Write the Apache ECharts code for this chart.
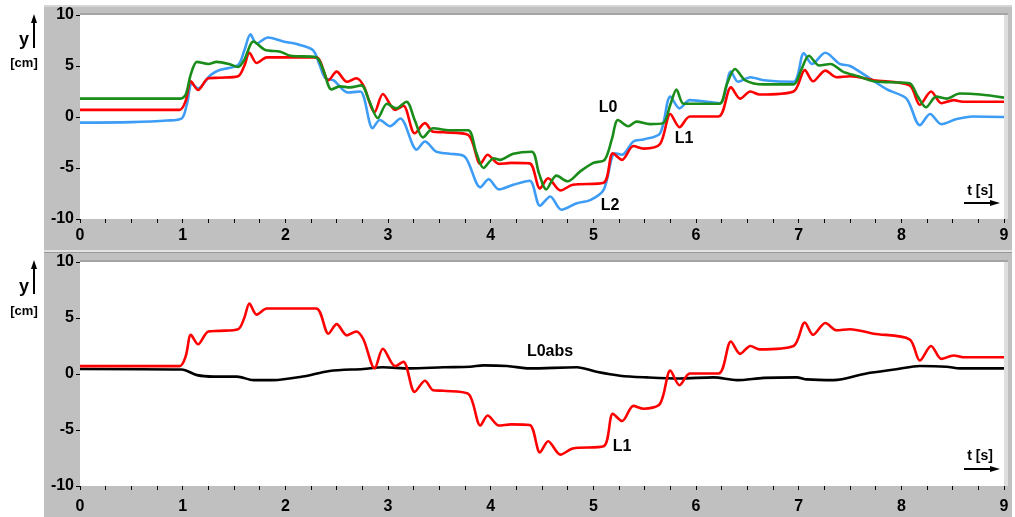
<!DOCTYPE html>
<html>
<head>
<meta charset="utf-8">
<script src="https://cdn.jsdelivr.net/npm/echarts@6/dist/echarts.min.js"></script>
<style>
html,body{margin:0;padding:0;background:#fff;}
#c{width:1015px;height:517px;}
</style>
</head>
<body>
<div id="c"></div>
<script>
// ---- data ----
var xTicks = [0,1,2,3,4,5,6,7,8,9];
var yTicks = [-10,-5,0,5,10];

var tL0 = [0,0.5,0.98,1.03,1.08,1.14,1.25,1.33,1.45,1.54,1.60,1.69,1.80,1.95,2.05,2.30,2.37,2.45,2.53,2.63,2.74,2.82,2.90,2.99,3.08,3.18,3.26,3.34,3.44,3.6,3.78,3.86,3.93,4.03,4.09,4.22,4.40,4.47,4.54,4.64,4.75,4.87,5.0,5.11,5.18,5.24,5.34,5.42,5.55,5.68,5.75,5.81,5.88,6.05,6.23,6.30,6.38,6.48,6.66,6.95,7.02,7.10,7.20,7.31,7.43,7.58,7.73,7.9,8.08,8.16,8.24,8.34,8.44,8.57,8.77,9.0];
var yL0 = [1.8,1.8,1.8,2.2,4.2,5.4,5.2,5.4,5.2,4.9,5.6,7.4,6.6,6.4,6.0,5.85,4.6,2.7,3.0,2.9,3.1,1.5,-0.1,1.3,0.85,1.5,-0.3,-2.0,-1.1,-1.3,-1.3,-3.5,-5.0,-4.05,-4.2,-3.6,-3.4,-5.5,-7.1,-5.75,-6.3,-5.35,-4.5,-4.2,-2.2,-0.3,-0.9,-0.45,-0.7,-0.6,1.2,2.7,1.3,1.3,1.3,3.2,4.7,3.6,3.2,3.2,4.5,6.0,5.05,5.2,4.45,4.0,3.5,3.4,3.3,2.0,0.95,2.0,1.8,2.3,2.2,1.9];

var tL1 = [0,0.5,0.97,1.03,1.08,1.15,1.25,1.36,1.54,1.60,1.65,1.72,1.82,1.98,2.30,2.42,2.50,2.60,2.69,2.76,2.87,2.95,3.07,3.15,3.26,3.36,3.44,3.54,3.78,3.90,3.97,4.08,4.2,4.38,4.48,4.56,4.68,4.80,5.10,5.19,5.28,5.39,5.49,5.65,5.75,5.84,5.94,6.22,6.34,6.43,6.53,6.62,6.95,7.06,7.14,7.26,7.37,7.50,7.73,8.08,8.18,8.29,8.39,8.51,8.6,9.0];
var yL1 = [0.7,0.7,0.7,1.6,3.5,2.65,3.8,3.85,4.0,5.0,6.3,5.3,5.85,5.85,5.85,3.6,4.45,3.45,3.8,3.1,0.5,2.25,0.7,1.1,-1.6,-0.6,-1.45,-1.5,-1.75,-4.6,-3.7,-4.6,-4.5,-4.55,-7.0,-6.0,-7.2,-6.65,-6.45,-3.55,-4.2,-2.85,-3.1,-2.65,0.3,-1.0,0.05,0.05,2.9,1.8,2.5,2.2,2.5,4.6,3.5,4.55,3.9,4.0,3.6,3.1,1.2,2.5,1.35,1.65,1.5,1.5];

var tL2 = [0,0.5,0.85,0.99,1.04,1.09,1.15,1.27,1.36,1.54,1.60,1.66,1.72,1.83,1.98,2.11,2.27,2.33,2.39,2.47,2.61,2.73,2.85,2.92,3.02,3.12,3.28,3.36,3.47,3.6,3.75,3.90,3.98,4.08,4.22,4.38,4.48,4.58,4.69,4.84,4.97,5.10,5.21,5.28,5.39,5.49,5.65,5.75,5.84,5.94,6.23,6.34,6.41,6.53,6.66,6.95,7.05,7.13,7.26,7.40,7.50,7.66,7.86,8.05,8.18,8.28,8.39,8.54,8.70,9.0];
var yL2 = [-0.55,-0.5,-0.35,-0.15,1.2,3.3,2.8,4.1,4.6,5.1,6.5,8.1,7.2,7.8,7.4,7.15,6.55,5.2,3.8,3.6,2.4,2.5,-1.1,-0.3,-0.9,-0.15,-3.2,-2.4,-3.4,-3.6,-3.9,-6.9,-6.1,-7.1,-6.65,-6.25,-8.7,-7.8,-9.1,-8.45,-8.15,-7.15,-3.55,-3.7,-2.4,-2.2,-1.6,2.0,0.85,1.65,1.35,4.45,3.45,3.9,3.6,3.45,6.25,5.2,6.3,5.2,5.0,4.0,2.7,1.8,-0.8,0.3,-0.7,-0.2,0.05,0.0];

var tL0abs = [0,0.99,1.14,1.30,1.53,1.69,1.88,2.17,2.43,2.76,2.95,3.21,3.54,3.80,3.93,4.16,4.38,4.84,5.03,5.26,5.52,5.84,6.17,6.40,6.66,6.98,7.08,7.34,7.66,7.95,8.18,8.44,8.57,9.0];
var yL0abs = [0.45,0.4,-0.1,-0.23,-0.23,-0.55,-0.55,-0.23,0.27,0.45,0.6,0.5,0.6,0.65,0.77,0.71,0.5,0.6,0.2,-0.15,-0.3,-0.4,-0.3,-0.55,-0.35,-0.3,-0.48,-0.55,0.05,0.42,0.71,0.65,0.5,0.5];

function zip(t, y){ return t.map(function(v,i){ return [v, y[i]]; }); }

var FONT = '"Liberation Sans", Arial, sans-serif';
var GREY = '#c0c0c0';

function xAxisCfg(idx, margin){
  return {
    type:'value', gridIndex:idx, min:xTicks[0], max:xTicks[xTicks.length-1], interval:1,
    axisLine:{show:false, onZero:false},
    axisTick:{show:true, length:4, lineStyle:{color:'#000', width:1}},
    minorTick:{show:true, splitNumber:4, length:4, lineStyle:{color:'#000', width:1}},
    splitLine:{show:false},
    axisLabel:{color:'#000', fontFamily:FONT, fontWeight:'bold', fontSize:16, margin:margin,
      formatter:function(v){ return xTicks.indexOf(v)>=0 ? String(v) : ''; }}
  };
}
function yAxisCfg(idx){
  return {
    type:'value', gridIndex:idx, min:yTicks[0], max:yTicks[yTicks.length-1], interval:5,
    axisLine:{show:false, onZero:false},
    axisTick:{show:true, length:4, lineStyle:{color:'#000', width:1}},
    splitLine:{show:false},
    axisLabel:{color:'#000', fontFamily:FONT, fontWeight:'bold', fontSize:16, margin:6}
  };
}
function line(name, data, color, xi){
  return {name:name, type:'line', xAxisIndex:xi, yAxisIndex:xi, data:data, smooth:0.3,
    showSymbol:false, symbol:'none', lineStyle:{color:color, width:2.6}, itemStyle:{color:color},
    animation:false, z:3};
}
function txt(x, y, s, size, align){
  return {type:'text', x:x, y:y, z:100, style:{text:s, fill:'#000', font:'bold '+size+'px '+FONT,
    textAlign:align||'center', textVerticalAlign:'middle'}};
}
function arrowUp(x, y1, y2){
  return [
    {type:'line', z:100, shape:{x1:x, y1:y2, x2:x, y2:y1+6}, style:{stroke:'#000', lineWidth:2}},
    {type:'polygon', z:100, shape:{points:[[x,y1],[x-3,y1+9],[x+3,y1+9]]}, style:{fill:'#000'}}
  ];
}
function arrowRight(x1, x2, y){
  return [
    {type:'line', z:100, shape:{x1:x1, y1:y, x2:x2-6, y2:y}, style:{stroke:'#000', lineWidth:2}},
    {type:'polygon', z:100, shape:{points:[[x2,y],[x2-10,y-3],[x2-10,y+3]]}, style:{fill:'#000'}}
  ];
}

var graphics = [
  {type:'rect', z:-100, shape:{x:44, y:5, width:968, height:245}, style:{fill:GREY}},
  {type:'rect', z:-100, shape:{x:44, y:250, width:968, height:2}, style:{fill:'#e2e2e2'}},
  {type:'rect', z:-100, shape:{x:44, y:252, width:968, height:1}, style:{fill:'#9a9a9a'}},
  {type:'rect', z:-100, shape:{x:44, y:253, width:968, height:264}, style:{fill:GREY}},
  {type:'rect', z:-99, shape:{x:44, y:5, width:968, height:2}, style:{fill:'#d6d6d6'}},
  {type:'rect', z:50, shape:{x:80, y:13, width:928, height:2}, style:{fill:'#a4a4a4'}},
  {type:'rect', z:50, shape:{x:1004, y:15, width:4, height:204}, style:{fill:'#dedede'}},
  {type:'rect', z:50, shape:{x:80, y:260, width:928, height:2}, style:{fill:'#a4a4a4'}},
  {type:'rect', z:50, shape:{x:1004, y:262, width:4, height:224}, style:{fill:'#dedede'}},
  txt(24, 40, 'y', 18),
  txt(24, 63, '[cm]', 13),
  txt(24, 287, 'y', 18),
  txt(24, 311, '[cm]', 13),
  txt(608, 108, 'L0', 16),
  txt(684, 139, 'L1', 16),
  txt(610, 206, 'L2', 16),
  txt(550, 352, 'L0abs', 16),
  txt(622, 447, 'L1', 16),
  txt(980, 191, 't [s]', 14),
  txt(980, 456, 't [s]', 14)
].concat(arrowUp(34, 14, 48), arrowUp(34, 260, 294), arrowRight(964, 1000, 203), arrowRight(964, 1000, 469));

var chart = echarts.init(document.getElementById('c'), null, {renderer:'canvas'});
chart.setOption({
  animation:false,
  backgroundColor:'#fff',
  grid:[
    {left:80, top:15, width:924, height:204, show:true, backgroundColor:'#fff', borderWidth:0},
    {left:80, top:262, width:924, height:224, show:true, backgroundColor:'#fff', borderWidth:0}
  ],
  xAxis:[xAxisCfg(0, 9), xAxisCfg(1, 13)],
  yAxis:[yAxisCfg(0), yAxisCfg(1)],
  series:[
    line('L2', zip(tL2, yL2), '#3d9cf5', 0),
    line('L1', zip(tL1, yL1), '#ff0000', 0),
    line('L0', zip(tL0, yL0), '#1a8c1a', 0),
    line('L0abs', zip(tL0abs, yL0abs), '#000000', 1),
    line('L1', zip(tL1, yL1), '#ff0000', 1)
  ],
  graphic:graphics
});
</script>
</body>
</html>
